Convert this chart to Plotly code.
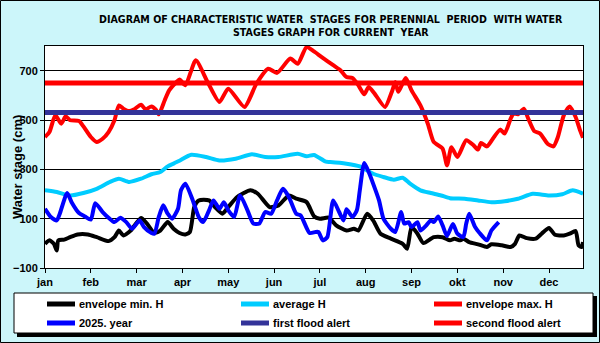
import plotly.graph_objects as go

# ---------------- data ----------------
months = ["jan", "feb", "mar", "apr", "may", "jun", "jul", "aug", "sep", "okt", "nov", "dec"]
month_ticks = [1, 32, 63, 94, 125, 156, 187, 218, 249, 280, 311, 342]

days_min = [1, 4, 7, 9, 10, 14, 18, 23, 30, 36, 44, 48, 51, 54, 59, 66, 70, 75, 79, 84, 88, 92, 96, 99,
            102, 105, 112, 116, 121, 125, 131, 140, 145, 153, 159, 166, 171, 178, 183, 187, 193, 198,
            205, 210, 213, 219, 223, 228, 235, 243, 246, 249, 253, 257, 264, 270, 275, 278, 282, 284,
            288, 294, 300, 303, 310, 316, 319, 322, 327, 333, 337, 342, 346, 352, 356, 360, 362, 364, 365]
h_min = [-2, 12, -2, -29, 12, 15, 25, 36, 36, 25, 9, 25, 52, 32, 52, 103, 80, 42, 52, 86, 59, 42, 36, 46,
         147, 174, 174, 147, 120, 147, 188, 215, 201, 147, 154, 194, 181, 167, 110, 100, 104, 73,
         52, 59, 52, 120, 93, 39, 19, -2, -22, 66, 39, 1, 25, 25, 12, 19, 12, 19,
         5, -4, -15, -4, -8, -15, -2, 32, 21, 19, 39, 62, 35, 32, 39, 50, -8, -15, 5]

days_avg = [1, 9, 18, 27, 36, 45, 51, 58, 66, 73, 79, 84, 88, 92, 100, 110, 119, 130, 141, 150, 159, 172,
            178, 183, 191, 194, 205, 214, 223, 230, 237, 243, 248, 255, 262, 269, 275, 285, 294, 303,
            312, 321, 331, 342, 351, 358, 365]
h_avg = [215, 208, 194, 204, 221, 249, 262, 249, 262, 280, 289, 312, 323, 335, 359, 350, 336, 343, 361, 350,
         350, 363, 353, 358, 331, 330, 323, 312, 282, 269, 258, 266, 242, 215, 204, 194, 183, 181, 174,
         167, 171, 181, 201, 194, 199, 215, 201]

days_max = [1, 4, 8, 12, 15, 18, 24, 27, 32, 36, 40, 44, 48, 51, 54, 58, 61, 66, 69, 73, 76, 78, 82, 85,
            90, 92, 96, 103, 111, 119, 125, 136, 144, 152, 158, 167, 172, 178, 183, 188, 196, 201, 205,
            209, 213, 217, 220, 224, 231, 236, 238, 240, 245, 249, 255, 260, 264, 270, 273, 276, 280,
            286, 291, 294, 296, 300, 304, 309, 312, 316, 318, 321, 325, 328, 332, 336, 341, 345, 348,
            352, 356, 360, 363, 365]
h_max = [431, 451, 519, 485, 515, 499, 496, 474, 431, 411, 424, 451, 499, 559, 546, 536, 542, 562, 543, 555,
         542, 523, 580, 620, 654, 664, 641, 742, 654, 573, 627, 553, 647, 708, 691, 749, 728, 796, 778,
         756, 722, 701, 674, 670, 641, 604, 634, 607, 553, 620, 654, 614, 670, 620, 559, 485, 411, 384,
         316, 390, 350, 418, 397, 380, 407, 393, 424, 461, 445, 505, 526, 523, 546, 505, 455, 445, 404,
         393, 431, 519, 555, 512, 458, 428]

days_cur = [1, 5, 9, 11, 16, 19, 24, 28, 32, 35, 40, 44, 48, 52, 56, 60, 65, 68, 73, 75, 78, 81, 84, 87, 91,
            93, 96, 101, 105, 108, 112, 115, 119, 122, 125, 129, 133, 138, 142, 146, 150, 154, 158, 162,
            166, 171, 174, 180, 184, 186, 189, 192, 196, 200, 203, 205, 209, 212, 214, 217, 220, 223, 227,
            230, 235, 238, 242, 244, 247, 249, 253, 255, 259, 262, 264, 267, 270, 273, 277, 280, 284, 286,
            288, 292, 295, 300, 303, 308]
h_cur = [140, 107, 93, 120, 204, 167, 123, 109, 96, 163, 127, 104, 86, 104, 86, 59, 93, 66, 42, 39, 107, 154,
         120, 100, 140, 215, 242, 174, 107, 86, 134, 174, 140, 167, 134, 107, 194, 134, 80, 80, 127, 120,
         174, 221, 188, 120, 113, 42, 46, 46, 12, 25, 174, 127, 93, 138, 107, 134, 215, 326, 289, 242, 174,
         100, 59, 46, 127, 80, 86, 66, 86, 52, 73, 93, 86, 109, 73, 30, 78, 39, 25, 80, 120, 66, 42, 12,
         52, 86]

first_alert = 530
second_alert = 650
alert_days = [1, 365]

y_ticks = [-100, 100, 300, 500, 700]

series_names = ["envelope min. H", "average H", "envelope max. H",
                "2025. year", "first flood alert", "second flood alert"]
series_colors = ["#000000", "#00ccff", "#ff0000", "#0000ff", "#333399", "#ff0000"]

# ---------------- geometry helpers (pixel -> paper) ----------------
W, H = 600, 343
ML, MR, MT, MB = 45, 17, 46, 75
PW, PH = W - ML - MR, H - MT - MB


def px(x):
    return (x - ML) / PW


def py(y):
    return (H - MB - y) / PH


FONT = "Liberation Sans, Arial, sans-serif"
TITLE_FONT = "Liberation Sans Narrow, Arial Narrow, DejaVu Sans Condensed, sans-serif"

fig = go.Figure()
series = [(days_min, h_min, 4, "spline"), (days_avg, h_avg, 4, "spline"), (days_max, h_max, 4, "spline"),
          (days_cur, h_cur, 4, "spline"), (alert_days, [first_alert] * 2, 5, "linear"),
          (alert_days, [second_alert] * 2, 5, "linear")]
for (xs, ys, w, shp), name, col in zip(series, series_names, series_colors):
    line = dict(color=col, width=w, shape=shp)
    if shp == "spline":
        line["smoothing"] = 0.6
    fig.add_trace(go.Scatter(x=xs, y=ys, mode="lines", name=name, line=line, showlegend=False))

shapes = [
    # legend shadow and box
    dict(type="rect", xref="paper", yref="paper", x0=px(17), x1=px(597), y0=py(337), y1=py(296),
         fillcolor="#000000", line=dict(width=0), layer="below"),
    dict(type="rect", xref="paper", yref="paper", x0=px(14), x1=px(593), y0=py(333), y1=py(293),
         fillcolor="#ffffff", line=dict(color="#000000", width=1), layer="below"),
    # outer frame
    dict(type="rect", xref="paper", yref="paper", x0=px(0.5), x1=px(599.5), y0=py(342.5), y1=py(0.5),
         line=dict(color="#000000", width=1), layer="below"),
]

annotations = [
    dict(text="Water stage (cm)", xref="paper", yref="paper", x=px(17), y=py(167),
         xanchor="center", yanchor="middle", textangle=-90, showarrow=False,
         font=dict(family=FONT, size=13, weight="bold", color="#000000")),
    dict(text="DIAGRAM OF CHARACTERISTIC WATER  STAGES FOR PERENNIAL  PERIOD  WITH WATER",
         xref="paper", yref="paper", x=px(331), y=py(19), xanchor="center", yanchor="middle",
         showarrow=False, font=dict(family=TITLE_FONT, size=10.6, weight="bold", color="#000000")),
    dict(text="STAGES GRAPH FOR CURRENT  YEAR",
         xref="paper", yref="paper", x=px(331), y=py(32), xanchor="center", yanchor="middle",
         showarrow=False, font=dict(family=TITLE_FONT, size=10.6, weight="bold", color="#000000")),
]

# manual legend (3 columns x 2 rows)
col_x = [47, 241, 434]
row_y = [304, 323]
for i, (name, col) in enumerate(zip(series_names, series_colors)):
    cx = col_x[i % 3]
    ry = row_y[i // 3]
    shapes.append(dict(type="line", xref="paper", yref="paper", x0=px(cx), x1=px(cx + 28),
                       y0=py(ry), y1=py(ry), line=dict(color=col, width=5), layer="above"))
    annotations.append(dict(text=name, xref="paper", yref="paper", x=px(cx + 30), y=py(ry),
                            xanchor="left", yanchor="middle", showarrow=False,
                            font=dict(family=FONT, size=11, weight="bold", color="#000000")))

fig.update_layout(
    width=W, height=H,
    margin=dict(l=ML, r=MR, t=MT, b=MB, autoexpand=False),
    paper_bgcolor="#ccf6fa",
    plot_bgcolor="#ffffff",
    font=dict(family=FONT, size=11, color="#000000"),
    showlegend=False,
    hovermode=False,
    shapes=shapes,
    annotations=annotations,
)

fig.update_xaxes(range=[1, 365], tickvals=month_ticks, ticktext=months, showgrid=False,
                 showline=True, linecolor="#000000", linewidth=1, mirror=True,
                 ticks="outside", ticklen=4, tickcolor="#000000", zeroline=False, automargin=False,
                 tickfont=dict(family=FONT, size=11, weight="bold"))
fig.update_yaxes(range=[-100, 800], tickvals=y_ticks, showgrid=True, gridcolor="#000000", gridwidth=1,
                 showline=True, linecolor="#000000", linewidth=1, mirror=True,
                 ticks="outside", ticklen=4, tickcolor="#000000", zeroline=False, automargin=False,
                 tickfont=dict(family=FONT, size=11, weight="bold"))

fig.write_html("out.html", config={"displayModeBar": False},
               post_script="document.body.style.margin='0px';")
